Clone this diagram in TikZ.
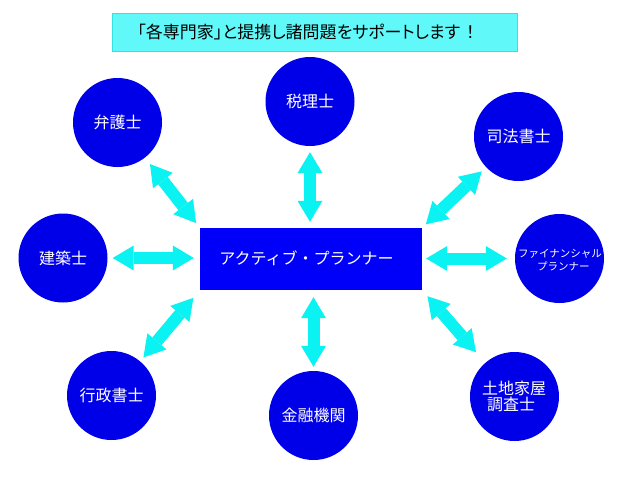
\documentclass[tikz,border=0pt]{standalone}
\usepackage{fontspec}
\setmainfont{Noto Sans CJK JP}
\newfontfamily\palfont[RawFeature=+palt]{Noto Sans CJK JP}
\usetikzlibrary{arrows.meta}
\definecolor{titlefill}{RGB}{96,248,248}
\definecolor{titleline}{RGB}{50,226,226}
\definecolor{arrowc}{RGB}{10,242,242}
\definecolor{circblue}{RGB}{0,0,232}
\definecolor{rectblue}{RGB}{0,0,250}
\tikzset{
  titlebox/.style={rectangle, fill=titlefill, draw=titleline, line width=1.2pt, minimum width=405pt, minimum height=38pt, inner sep=0pt},
  titletext/.style={text=black, font=\palfont\fontsize{17}{19}\selectfont, inner sep=0pt},
  mainbox/.style={rectangle, fill=rectblue, minimum width=222pt, minimum height=62pt, inner sep=0pt},
  maintext/.style={text=white, font=\fontsize{16}{19}\selectfont, inner sep=0pt},
  expert/.style={circle, fill=circblue, minimum size=89pt, inner sep=0pt, text=white, font=\fontsize{16}{16}\selectfont},
  smalllabel/.style={text=white, font=\fontsize{10.5}{12.5}\selectfont, align=left, inner sep=0pt},
  twoline/.style={text=white, font=\fontsize{16}{16}\selectfont, align=left, inner sep=0pt},
  dbl/.style={draw=arrowc, line width=12pt,
    {Triangle[width=25pt,length=21pt,line width=0pt]}-{Triangle[width=25pt,length=21pt,line width=0pt]}},
}
\begin{document}
\begin{tikzpicture}[x=1pt,y=-1pt]
\useasboundingbox (0,0) rectangle (640,480);
\fill[white] (0,0) rectangle (640,480);
% title
\node[titlebox] (title) at (315,32.5) {};
\node[titletext] (titletxt) at (306,32.5) {「各専門家」と提携し諸問題をサポートします\hspace{6pt}！};
% center
\node[mainbox] (main) at (311,259) {};
\node[maintext] (maintxt) at (306.5,258) {アクティブ・プランナー};
% experts
\node[expert] (bengo) at (117.5,122.5) {弁護士};
\node[expert] (kenchiku) at (63,258) {建築士};
\node[expert] (zeiri) at (310,101.5) {税理士};
\node[expert] (shiho) at (518.5,136.5) {司法書士};
\node[expert] (fp) at (559.5,258.5) {};
\node[smalllabel] (fptxt) at (560,260) {ファイナンシャル\\\hspace*{19pt}プランナー};
\node[expert] (gyosei) at (111.5,395.5) {行政書士};
\node[expert] (kinyu) at (313.5,415.5) {金融機関};
\node[expert] (tochi) at (514.5,396.5) {};
\node[twoline] (tochitxt) at (514,396) {土地家屋\\\hspace*{5pt}調査士};
% arrows
\draw[dbl, shorten <=6pt, shorten >=6pt] (zeiri) -- (zeiri |- main.north);
\draw[dbl, shorten <=4pt, shorten >=7pt] (kinyu) -- (kinyu |- main.south);
\draw[dbl, shorten <=5pt, shorten >=6pt] (kenchiku) -- (kenchiku -| main.west);
\draw[dbl, shorten <=4pt, shorten >=8pt] (fp -| main.east) -- (fp);
\draw[dbl, shorten <=6pt, shorten >=8pt] (main.north west) -- (bengo);
\draw[dbl, shorten <=5pt, shorten >=6pt] (main.north east) -- (shiho);
\draw[dbl, shorten <=10pt, shorten >=5pt] (main.south west) -- (gyosei);
\draw[dbl, shorten <=8pt, shorten >=14pt] (main.south east) -- (tochi);
\end{tikzpicture}
\end{document}
